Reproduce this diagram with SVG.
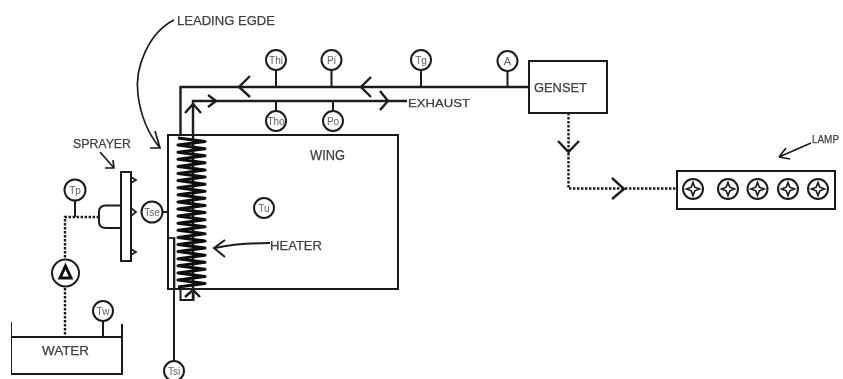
<svg xmlns="http://www.w3.org/2000/svg" width="843" height="379" viewBox="0 0 843 379">
<defs>
<filter id="soft" x="0" y="0" width="100%" height="100%"><feGaussianBlur stdDeviation="0.45"/></filter>
<g id="star"><circle r="10" class="ln2"/><path d="M0 -6.500 L1.800 -1.800 L6.500 0 L1.800 1.800 L0 6.500 L-1.800 1.800 L-6.500 0 L-1.800 -1.800 Z" class="ln15"/></g>
</defs>
<style>
.ln2{fill:none;stroke:#1c1c1c;stroke-width:2}
.ln15{fill:none;stroke:#1c1c1c;stroke-width:1.7}
.ln25{fill:none;stroke:#1c1c1c;stroke-width:2.4}
.dot{fill:none;stroke:#1c1c1c;stroke-width:2.4;stroke-dasharray:2.400 1.600}
.gauge{fill:#fff;stroke:#1c1c1c;stroke-width:2}
.t{font-family:"Liberation Sans",Arial,sans-serif;fill:#404040;stroke:#404040;stroke-width:0.25}
.s{font-size:10px;text-anchor:middle;fill:#606060;stroke:none}
.m{font-size:13px}
</style>
<rect width="843" height="379" fill="#fff"/>
<g filter="url(#soft)">
<g id="connectors">
<path class="ln25" d="M529 87H180.500V135"/>
<path class="ln25" d="M193 300V101H407"/>
<path class="ln25" d="M250 76L239 87L250 97M371 77L361 87L371 97"/>
<path class="ln25" d="M208 95L216 101L208 107M380 91L388 101L380 110M185 113L193 104L201 113M185 297L193 290L200 297"/>
<path class="ln2" d="M276 70V87M331.500 70V87M421 70V87M507.500 71V87M276 101V111M333 101V111"/>
<path class="dot" d="M568.500 113V188.500H677"/>
<path class="ln25" d="M558 141L568.500 152L579 141M612 178L624 189L612 199"/>
<path class="ln2" d="M162 212H168M174 238V361"/>
<path class="dot" d="M99 217H65V260M65 288V337"/>
<path class="ln2" d="M75 200V217M103 321V337"/>
<path class="ln15" d="M174 20C150 32 134 66 138 95C141 118 150 136 160 148M150 148H160L155 131"/>
<path class="ln15" d="M100 152L114 168M105 168H114L113 160"/>
<path class="ln15" d="M811 143L779 157L786 148M779 157L790 159"/>
<path class="ln2" d="M270 243C250 243 232 244 215 248M225 240L214 248L225 257"/>
</g>
<g id="wing"><rect x="168" y="135" width="230" height="154" class="ln2"/><text x="310" y="160" class="t" font-size="14" textLength="35" lengthAdjust="spacingAndGlyphs">WING</text></g>
<g id="heater"><rect x="168" y="238" width="6.500" height="51" class="ln15"/><rect x="180.500" y="289" width="13" height="11" class="ln2"/>
<path d="M178 138 l27 3.550 l-27 3.550 l27 3.550 l-27 3.550 l27 3.550 l-27 3.550 l27 3.550 l-27 3.550 l27 3.550 l-27 3.550 l27 3.550 l-27 3.550 l27 3.550 l-27 3.550 l27 3.550 l-27 3.550 l27 3.550 l-27 3.550 l27 3.550 l-27 3.550 l27 3.550 l-27 3.550 l27 3.550 l-27 3.550 l27 3.550 l-27 3.550 l27 3.550 l-27 3.550 l27 3.550 l-27 3.550 l27 3.550 l-27 3.550 l27 3.550 l-27 3.550 l27 3.550 l-27 3.550 l27 3.550 l-27 3.550 l27 3.550 l-27 3.550 l27 3.550 l-27 3.550" fill="none" stroke="#111" stroke-width="3" stroke-linejoin="round"/>
<text x="270" y="250" class="t m" textLength="52" lengthAdjust="spacingAndGlyphs">HEATER</text></g>
<g id="leading-edge"><text x="177" y="25" class="t m" textLength="98" lengthAdjust="spacingAndGlyphs">LEADING EGDE</text></g>
<g id="exhaust"><text x="408" y="106.500" class="t" font-size="11" textLength="62" lengthAdjust="spacingAndGlyphs">EXHAUST</text></g>
<g id="genset"><rect x="529" y="61" width="78" height="52" class="ln2"/><text x="534" y="92" class="t" font-size="13.500" textLength="53" lengthAdjust="spacingAndGlyphs">GENSET</text></g>
<g id="lamps"><rect x="677" y="171" width="158" height="38" class="ln2"/>
<use href="#star" x="693" y="189"/><use href="#star" x="728" y="189"/><use href="#star" x="757.500" y="189"/><use href="#star" x="788" y="189"/><use href="#star" x="818" y="189"/>
<text x="812" y="143" class="t" font-size="11.500" textLength="27" lengthAdjust="spacingAndGlyphs">LAMP</text></g>
<g id="sprayer"><rect x="121" y="172" width="10" height="89" class="ln2"/>
<path class="ln2" d="M121 205.500H106Q99 205.500 99 212V222Q99 228 106 228H121"/>
<path class="ln15" d="M131 177L136 180L131 183ZM131 208L136 212L131 216ZM131 249L136 252L131 255Z"/>
<text x="73" y="148" class="t m" textLength="58" lengthAdjust="spacingAndGlyphs">SPRAYER</text></g>
<g id="water"><path class="ln2" d="M11 322V374H122V324M11 337H122"/><text x="42" y="355" class="t" font-size="13.500" textLength="47" lengthAdjust="spacingAndGlyphs">WATER</text></g>
<g id="pump"><circle cx="65.500" cy="273" r="13.500" class="gauge"/><path d="M65.500 266L71 278H60Z" fill="none" stroke="#111" stroke-width="3"/></g>
<g id="g-thi"><circle cx="276" cy="60" r="10" class="gauge"/><text x="276" y="63.500" class="t s">Thi</text></g>
<g id="g-pi"><circle cx="331.500" cy="60" r="10" class="gauge"/><text x="331.500" y="63.500" class="t s">Pi</text></g>
<g id="g-tg"><circle cx="421" cy="60" r="10" class="gauge"/><text x="421" y="63.500" class="t s">Tg</text></g>
<g id="g-a"><circle cx="507.500" cy="61" r="10" class="gauge"/><text x="507.500" y="65" class="t s" style="font-size:11px">A</text></g>
<g id="g-tho"><circle cx="276" cy="121" r="10" class="gauge"/><text x="276" y="124.500" class="t s">Tho</text></g>
<g id="g-po"><circle cx="333" cy="121" r="10" class="gauge"/><text x="333" y="124.500" class="t s">Po</text></g>
<g id="g-tu"><circle cx="264" cy="208" r="10" class="gauge"/><text x="264" y="211.500" class="t s">Tu</text></g>
<g id="g-tse"><circle cx="152" cy="212" r="10.500" class="gauge"/><text x="152" y="215.500" class="t s">Tse</text></g>
<g id="g-tp"><circle cx="75" cy="190" r="10.500" class="gauge"/><text x="75" y="193.500" class="t s">Tp</text></g>
<g id="g-tw"><circle cx="103" cy="311" r="10" class="gauge"/><text x="103" y="314.500" class="t s">Tw</text></g>
<g id="g-tsi"><circle cx="174" cy="371" r="10" class="gauge"/><text x="174" y="375" class="t s">Tsi</text></g>
</g>
</svg>
